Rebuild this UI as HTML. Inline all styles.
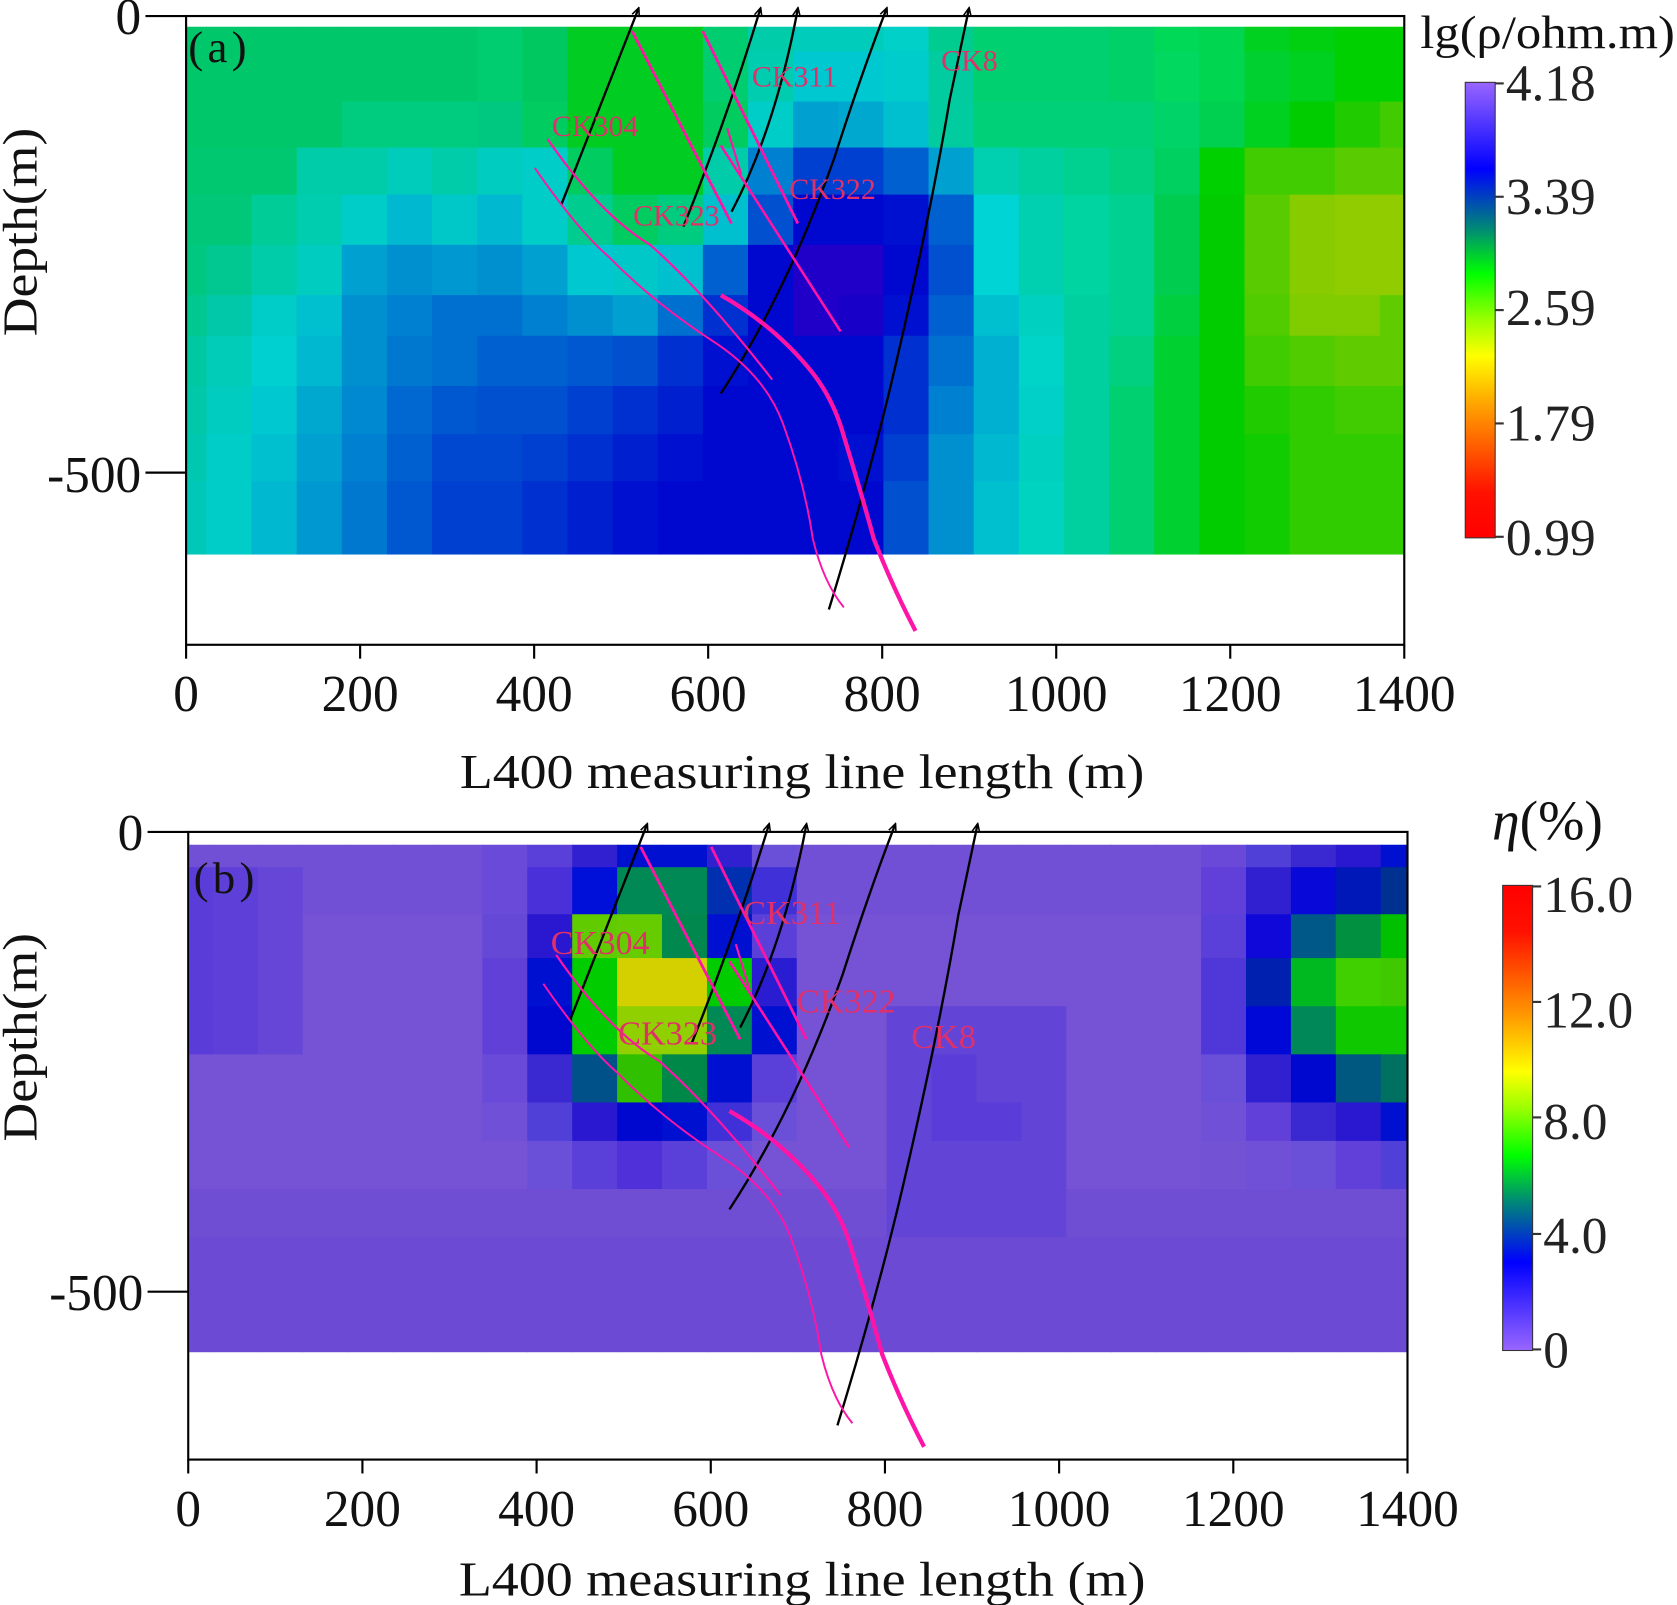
<!DOCTYPE html>
<html><head><meta charset="utf-8">
<style>
html,body{margin:0;padding:0;background:#fff;}
svg{display:block;}
text{font-family:"Liberation Serif",serif;}
</style></head>
<body>
<svg id="s" width="1677" height="1605" viewBox="0 0 1568 1501" preserveAspectRatio="none" xmlns="http://www.w3.org/2000/svg">
<defs>
<linearGradient id="ga" x1="0" y1="0" x2="0" y2="1">
<stop offset="0" stop-color="#9966ff"/><stop offset="0.19" stop-color="#0000ff"/>
<stop offset="0.32" stop-color="#008877"/><stop offset="0.42" stop-color="#00ff00"/>
<stop offset="0.52" stop-color="#99ff00"/><stop offset="0.6" stop-color="#ffff00"/>
<stop offset="0.72" stop-color="#ff9900"/><stop offset="0.9" stop-color="#ff1100"/>
<stop offset="1" stop-color="#ff0000"/>
</linearGradient>
<linearGradient id="gb" x1="0" y1="1" x2="0" y2="0">
<stop offset="0" stop-color="#9966ff"/><stop offset="0.19" stop-color="#0000ff"/>
<stop offset="0.32" stop-color="#008877"/><stop offset="0.42" stop-color="#00ff00"/>
<stop offset="0.52" stop-color="#99ff00"/><stop offset="0.6" stop-color="#ffff00"/>
<stop offset="0.72" stop-color="#ff9900"/><stop offset="0.9" stop-color="#ff1100"/>
<stop offset="1" stop-color="#ff0000"/>
</linearGradient>
<marker id="ar" viewBox="0 0 10 10" refX="8" refY="5" markerWidth="9" markerHeight="9" orient="auto" markerUnits="userSpaceOnUse">
<path d="M0,1 L9,5 L0,9" fill="none" stroke="#000" stroke-width="1.6"/>
</marker>
</defs>
<g id="cellsA"></g>
<g id="cellsB"></g>

<!-- Panel a frame & axes -->
<rect x="174" y="15" width="1139" height="588" fill="none" stroke="#000" stroke-width="2"/>
<line x1="136" y1="15" x2="174" y2="15" stroke="#000" stroke-width="2"/>
<line x1="136" y1="442" x2="174" y2="442" stroke="#000" stroke-width="2"/>
<g font-size="48" fill="#111" text-anchor="end">
<text x="132" y="32">0</text><text x="132" y="460">-500</text>
</g>
<g id="xta"></g>
<text x="750" y="737" font-size="46" text-anchor="middle" fill="#111" textLength="640" lengthAdjust="spacingAndGlyphs">L400 measuring line length (m)</text>
<text transform="translate(34,217) rotate(-90)" font-size="46" text-anchor="middle" fill="#111" textLength="195" lengthAdjust="spacingAndGlyphs">Depth(m)</text>
<text x="176" y="58" font-size="42" fill="#111" letter-spacing="4">(a)</text>

<!-- Panel b frame & axes -->
<rect x="176" y="778" width="1140" height="587" fill="none" stroke="#000" stroke-width="2"/>
<line x1="138" y1="778" x2="176" y2="778" stroke="#000" stroke-width="2"/>
<line x1="138" y1="1208" x2="176" y2="1208" stroke="#000" stroke-width="2"/>
<g font-size="48" fill="#111" text-anchor="end">
<text x="134" y="795">0</text><text x="134" y="1225">-500</text>
</g>
<g id="xtb"></g>
<text x="750" y="1492" font-size="46" text-anchor="middle" fill="#111" textLength="642" lengthAdjust="spacingAndGlyphs">L400 measuring line length (m)</text>
<text transform="translate(34,970) rotate(-90)" font-size="46" text-anchor="middle" fill="#111" textLength="195" lengthAdjust="spacingAndGlyphs">Depth(m)</text>
<text x="181" y="835" font-size="42" fill="#111" letter-spacing="4">(b)</text>

<!-- lines a -->
<g id="la">
<g fill="none" stroke="#000" stroke-width="2.2">
<path d="M525,191 L597,8" marker-end="url(#ar)"/>
<path d="M639,212 Q680,110 711,8" marker-end="url(#ar)"/>
<path d="M684,198 Q725,120 746,8" marker-end="url(#ar)"/>
<path d="M674,368 Q735,275 780,148 Q805,70 829,8" marker-end="url(#ar)"/>
<path d="M775,570 Q815,440 840,330 Q870,200 888,93 L906,8" marker-end="url(#ar)"/>
</g>
<g fill="none" stroke="#ff14a8">
<path d="M512,130 Q560,200 608,229 Q660,275 722,355" stroke-width="2"/>
<path d="M500,157 Q540,215 569,240 Q610,282 665,318 Q715,350 732,396 Q752,450 760,504 Q770,545 789,568" stroke-width="1.8"/>
<path d="M591,29 L684,209" stroke-width="2.6"/>
<path d="M657,29 L746,209" stroke-width="2.6"/>
<path d="M674,136 L786,310" stroke-width="2.4"/>
<path d="M680,120 L693,163" stroke-width="2"/>
<path d="M674,276 Q725,305 760,349 Q780,375 789,408 Q805,460 817,504 Q835,550 856,590" stroke-width="4"/>
</g>
</g>
<g font-size="28" fill="#e0306a">
<text x="516" y="127">CK304</text><text x="703" y="81">CK311</text>
<text x="738" y="186">CK322</text><text x="592" y="211">CK323</text><text x="880" y="66">CK8</text>
</g>
<use href="#la" transform="translate(8,763)"/>
<g font-size="32" fill="#e0306a">
<text x="515" y="892">CK304</text><text x="695" y="864">CK311</text>
<text x="745" y="947">CK322</text><text x="578" y="977">CK323</text><text x="852" y="980">CK8</text>
</g>

<!-- colorbar a -->
<rect x="1370" y="77" width="28" height="426" fill="url(#ga)" stroke="#333" stroke-width="1"/>
<g stroke="#333" stroke-width="2">
<line x1="1398" y1="78" x2="1406" y2="78"/><line x1="1398" y1="184" x2="1406" y2="184"/>
<line x1="1398" y1="290" x2="1406" y2="290"/><line x1="1398" y1="396" x2="1406" y2="396"/>
<line x1="1398" y1="502" x2="1406" y2="502"/>
</g>
<g font-size="48" fill="#222">
<text x="1408" y="94">4.18</text><text x="1408" y="200">3.39</text>
<text x="1408" y="304">2.59</text><text x="1408" y="412">1.79</text><text x="1408" y="519">0.99</text>
</g>
<text x="1328" y="45" font-size="44" fill="#111" textLength="238" lengthAdjust="spacingAndGlyphs">lg(ρ/ohm.m)</text>

<!-- colorbar b -->
<rect x="1405" y="828" width="28" height="435" fill="url(#gb)" stroke="#333" stroke-width="1"/>
<g stroke="#333" stroke-width="2">
<line x1="1433" y1="829" x2="1441" y2="829"/><line x1="1433" y1="937" x2="1441" y2="937"/>
<line x1="1433" y1="1045" x2="1441" y2="1045"/><line x1="1433" y1="1154" x2="1441" y2="1154"/>
<line x1="1433" y1="1262" x2="1441" y2="1262"/>
</g>
<g font-size="48" fill="#222">
<text x="1443" y="853">16.0</text><text x="1443" y="961">12.0</text>
<text x="1443" y="1065">8.0</text><text x="1443" y="1172">4.0</text><text x="1443" y="1279">0</text>
</g>
<text x="1395" y="785" font-size="52" fill="#111"><tspan font-style="italic">η</tspan>(%)</text>
</svg>
<script>
(function(){
var NS="http://www.w3.org/2000/svg";
function rect(g,x,y,w,h,c){var r=document.createElementNS(NS,"rect");r.setAttribute("x",x);r.setAttribute("y",y);r.setAttribute("width",w+0.6);r.setAttribute("height",h+0.6);r.setAttribute("fill","#"+c);g.appendChild(r);}
function rep(v,n){var a=[];for(var i=0;i<n;i++)a.push(v);return a;}
var colA=[174];for(var k=0;k<=26;k++)colA.push(193+42.2*k);colA.push(1313);
var rowA=[25,48,95,138,182,229,276,314,361,406,450,497,518];
var A=[];
A[0]=rep("00c86a",8).concat(["00c850","00cc22","00cc22","00c850","00ccb0","00ccb8","00cccc","00cccc","00d0c8","00cc90","00d070","00d070","00d070","00d068","00d858","00d650","00d020","00d010","00d000","00d000"]);
A[1]=rep("00c86a",8).concat(["00c850","00cc22","00cc22","00c850","00ccb0","00c4cc","00cccc","00cccc","00cccc","00cca0","00d070","00d070","00d070","00d068","00d860","00d650","00d030","00d020","00d000","00d000"]);
A[2]=rep("00c86a",4).concat(rep("00cc80",4)).concat(["00c850","00cc22","00cc22","00c860","00c8c8","0099cc","00a0d0","00b8d0","00b8d0","00c8c8","00d078","00d078","00d078","00d078","00d468","00d050","00d020","00cc00","20cc00","40cc00"]);
A[3]=["00c870","00c870","00c870","00ccaa","00ccaa","00ccbb","00ccaa","00cc90","00cc60","00cc22","00cc22","00c890","0080d8","0040c8","0050d0","0070d0","0070d0","00b0d0","00d0b0","00d0a0","00d090","00d080","00d060","00d000","40cc00","40cc00","58cc00","58cc00"];
A[4]=["00c878","00c878","00cc98","00ccb0","00ccc8","00b8d0","00c8c8","00ccb8","00cc60","00cc40","00cc50","00c8c0","0010d0","0010d0","0010d0","0030c8","0060d0","0088d0","00d4d4","00d0b0","00d4a0","00d090","00cc50","00cc00","58cc00","88cc00","90cc00","90cc00"];
A[5]=["00c880","00c890","00ccaa","00ccc0","00a0d0","0090d0","0098d0","00b8d0","00d0c8","00ccb0","00ccc0","0060c8","0008d0","3010c0","1008c8","0020c8","0020d0","0080d0","00d4d4","00d0b0","00d4a0","00d090","00cc50","00cc00","58cc00","88cc00","90cc00","90cc00"];
A[6]=["00c890","00c8a8","00ccc8","00c0d0","0090d0","0080d0","0070d0","0078d0","0080d0","0098d0","00a0d0","0040c8","0008d0","2010c8","0010d0","0020c8","0008d0","0070d0","00c0d0","00d0c0","00d0a0","00d090","00d040","00cc00","50cc00","80cc00","80cc00","60cc00"];
A[7]=["00c8a0","00ccb8","00d0d0","00b8d0","0090d0","0078d0","0070d0","0068d0","0060d0","0058d0","0060d0","0020c8","0008d0","0008d0","0010d0","0018d0","0008d0","0060d0","00b0d0","00d4c8","00d0a0","00d080","00d030","00cc00","40cc00","50cc00","60cc00","60cc00"];
A[8]=["00c8a8","00ccc0","00c8d0","00a8d0","0088d0","0068d0","0058d0","0050d0","0048d0","0040d0","0030d0","0010d0","0008d0","0008d0","0008d0","0018d0","0020d0","0070d0","00b0d0","00d0c8","00d0a0","00d070","00d030","00cc00","20cc00","30cc00","40cc00","40cc00"];
A[9]=["00c8b0","00ccc8","00c0d0","00a0d0","0080d0","0060d0","0048d0","0040d0","0030d0","0028d0","0020d0","0010d0","0008d0","0008d0","0008d0","0018d0","0030d0","0080d0","00b8d0","00d0c0","00d0a0","00d070","00d030","00cc00","10cc00","30cc00","30cc00","30cc00"];
A[10]=["00c8b8","00ccc8","00b8d0","0098d0","0078d0","0058d0","0040d0","0030d0","0020d0","0018d0","0010d0","0008d0","0008d0","0010d0","0010d0","0020d0","0050d0","0090d0","00c0d0","00d4c0","00d0a0","00d070","00d030","00cc00","10cc00","30cc00","30cc00","30cc00"];
A[11]=A[10].slice();
function setA(r,c0,arr){for(var i=0;i<arr.length;i++)A[r][c0+i]=arr[i];}
setA(0,7,["00cc70","00c860","00cc22","00cc22","00cc22","00cc70","00ccaa","00ccbb","00ccbb","00d0c8","00cc90"]);
setA(1,7,["00cc70","00c860","00cc22","00cc22","00cc22","00cc70","00ccb0","00c8d0","00c8d0","00cccc","00cca0"]);
setA(2,7,["00c880","00cc60","00cc22","00cc22","00cc22","00cc60","00ccc8","00a0d0","00a8d0","00c0d0","00cca0"]);
setA(3,7,["00ccc0","00ccc8","00cc60","00cc22","00cc22","00ccaa","0080d0","0040d0","0040d0","0060d0","00a0d0"]);
setA(4,7,["00b8d0","00ccc8","00cc90","00cc60","00cc80","00c0d0","0050d0","0008d0","0008d0","0010d0","0060d0"]);
setA(5,7,["0090d0","00a0d0","00c8d0","00c8c8","00c0d0","0060d0","0008d0","2000c8","2000c8","0008d0","0050d0"]);
setA(6,7,["0070d0","0080d0","0090d0","00a0d0","0070d0","0030d0","0008d0","2000c8","1800c8","0010d0","0060d0"]);
setA(7,7,["0060d0","0060d0","0058d0","0050d0","0030d0","0010d0","0008d0","0008d0","0008d0","0030d0","0070d0"]);
setA(8,7,["0050d0","0050d0","0040d0","0030d0","0020d0","0008d0","0008d0","0008d0","0008d0","0030d0","0080d0"]);
setA(9,7,["0048d0","0040d0","0030d0","0020d0","0010d0","0008d0","0008d0","0008d0","0010d0","0040d0","0090d0"]);
setA(10,7,["0040d0","0030d0","0020d0","0010d0","0008d0","0008d0","0008d0","0008d0","0008d0","0050d0","0090d0"]);
setA(11,7,["0040d0","0030d0","0020d0","0010d0","0008d0","0008d0","0008d0","0008d0","0008d0","0050d0","0090d0"]);
var ga=document.getElementById("cellsA");
for(var r=0;r<12;r++)for(var c=0;c<28;c++)rect(ga,colA[c],rowA[r],colA[c+1]-colA[c],rowA[r+1]-rowA[r],A[r][c]);
// panel b
var colB=[177];for(var k=0;k<=26;k++)colB.push(199+42*k);colB.push(1316);
var rowB=[790,811,855,896,941,986,1031,1067,1112,1157,1200,1264];
var B=[];for(var r=0;r<11;r++){B[r]=[];for(var c=0;c<28;c++){var v="7652d4";if(r<=1)v="7250d6";if(r>=9)v="6c4ad4";if(r==8)v="704ed4";B[r][c]=v;}}
for(var r=1;r<=4;r++){B[r][0]="5a3cd8";B[r][1]="5e40d8";B[r][2]="6646d6";}
for(var r=4;r<=8;r++){for(var c=16;c<=19;c++)B[r][c]="6244d6";}
B[5][17]="5a3cd8";B[6][17]="5a3cd8";B[6][18]="5a3cd8";
function set(r,c0,arr){for(var i=0;i<arr.length;i++)B[r][c0+i]=arr[i];}
set(0,7,["6a4ad8","5a3fd8","3020d0","0010d0","0010d0","3020d0","6a50d8"]);
set(1,7,["6a4ad8","4a30d8","0010d8","008855","008855","0030b0","4030d8"]);
set(2,7,["6648d6","2a18d0","60cc00","66cc00","00884e","0010d0","5a40d8"]);
set(3,7,["6040d6","0010d0","00cc00","d4d000","d4d000","00cc00","2a1cd0"]);
set(4,7,["6040d6","0008d0","00cc00","90d000","90d000","008855","0010d0"]);
set(5,7,["6a4ad8","3a28d0","00508a","30c000","008848","0010d0","5a40d8"]);
set(6,7,["7050d6","5040d8","2a18d0","0008d0","0010d0","4030d8","6a50d8"]);
set(7,8,["6a50d8","5a40d8","5030d8","5a40d8","6a50d8"]);
set(0,23,["6a48d8","5040d8","3a28d0","2a18d0","0010d0"]);
set(1,23,["6040d8","3020d0","0808d8","0018b8","003090"]);
set(2,23,["5a40d8","1008d8","005888","009040","00c000"]);
set(3,23,["5038d8","0020b0","00b820","40d000","40c800"]);
set(4,23,["5038d8","0008d8","008858","10c800","10c800"]);
set(5,23,["6a50d8","3020d0","0008d0","005880","007060"]);
set(6,23,["7050d6","6040d8","3a28d0","2a18d0","0010d0"]);
set(7,23,["7452d4","7050d6","6a50d8","6040d8","5040d8"]);
var gb=document.getElementById("cellsB");
for(var r=0;r<11;r++)for(var c=0;c<28;c++)rect(gb,colB[c],rowB[r],colB[c+1]-colB[c],rowB[r+1]-rowB[r],B[r][c]);
function ticks(id,x0,w,y){var g=document.getElementById(id);var s="";for(var i=0;i<=7;i++){var x=x0+w*i/7;s+='<line x1="'+x+'" y1="'+y+'" x2="'+x+'" y2="'+(y+13)+'" stroke="#000" stroke-width="2"/>';s+='<text x="'+x+'" y="'+(y+62)+'" font-size="48" text-anchor="middle" fill="#111">'+(i*200)+'</text>';}g.innerHTML=s;}
ticks("xta",174,1139,603);ticks("xtb",176,1140,1365);
})();
</script>
</body></html>
